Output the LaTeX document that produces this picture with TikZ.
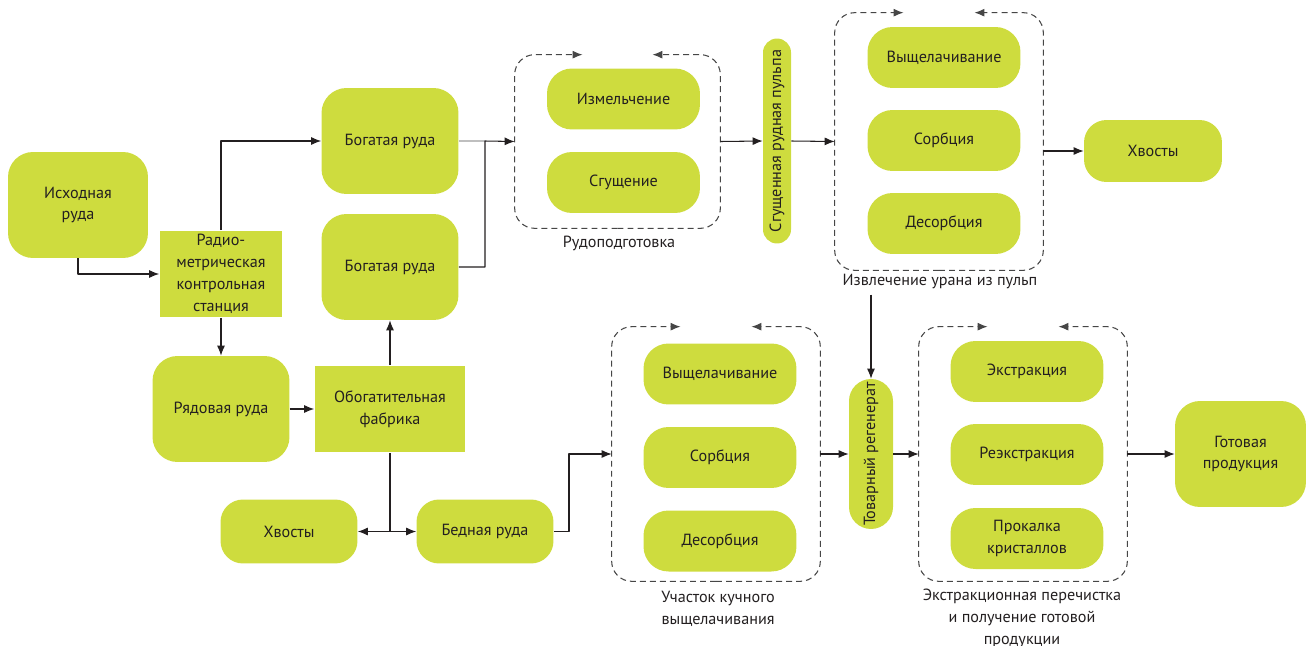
\documentclass[tikz,border=0pt]{standalone}
\usepackage{fontspec}
\setmainfont{PT Sans}
\usepackage{graphicx}
\usetikzlibrary{calc,arrows.meta}
\definecolor{mainLime}{RGB}{206,220,62}
\definecolor{inkGray}{RGB}{35,31,32}
\definecolor{dashGray}{RGB}{70,70,70}

\begin{document}
\begin{tikzpicture}[x=0.02cm, y=-0.02cm, line join=round,
  every node/.style={font=\fontsize{9.2}{12.5}\selectfont, text=inkGray, align=center},
  blob/.style={fill=mainLime, rounded corners=0.5cm, minimum width=2.74cm, minimum height=2.12cm, inner sep=2pt},
  slab/.style={fill=mainLime, minimum height=1.74cm, inner sep=2pt},
  stage/.style={fill=mainLime, rounded corners=0.5cm, minimum width=3.06cm, minimum height=1.22cm},
  flat/.style={fill=mainLime, rounded corners=0.45cm, minimum width=2.74cm, minimum height=1.28cm},
  pill/.style={fill=mainLime, inner sep=0pt},
  grp/.style={inner sep=0pt, minimum width=4.16cm},
  grpline/.style={dashGray, line width=0.6pt, dash pattern=on 3.4pt off 2.3pt, rounded corners=0.4cm, -{Latex[length=2mm,width=1.6mm]}},
  arr/.style={inkGray, line width=0.6pt, -{Latex[length=2mm,width=1.6mm]}},
  link/.style={inkGray, line width=0.6pt},
]
\useasboundingbox (0,0) rectangle (1306,646);

% ore sorting
\node[blob, minimum width=2.8cm] (src) at (78,205) {Исходная\\руда};
\node[slab, minimum width=2.46cm] (radio) at (221,274) {Радио-\\метрическая\\контрольная\\станция};
\node[blob] (rich1) at (390,141) {Богатая руда};
\node[blob] (rich2) at (390,267) {Богатая руда};
\node[blob] (ryad) at (221,409) {Рядовая руда};
\node[slab, minimum width=3.02cm] (plant) at (390,409) {Обогатительная\\фабрика};
\node[flat] (tails1) at (289,531.5) {Хвосты};
\node[flat] (poor) at (485,531.5) {Бедная руда};

% groups
\node[grp, minimum width=4.1cm, minimum height=3.46cm] (gprep) at (617.5,141.5) {};
\node[grp, minimum height=5.14cm] (gextract) at (939,141.5) {};
\node[grp, minimum height=5.08cm] (gheap) at (716,454) {};
\node[grp, minimum height=5.08cm] (gextr) at (1023,454) {};
\foreach \g in {gprep,gextract,gheap,gextr} {
  \draw[grpline] (\g.south) -| (\g.north west) -- ($(\g.north west)!0.33!(\g.north east)$);
  \draw[grpline] (\g.south) -| (\g.north east) -- ($(\g.north west)!0.67!(\g.north east)$);
}
\node (lprep) at (619,243) {Рудоподготовка};
\node (lextract) at (940,281) {Извлечение урана из пульп};
\node (lheap) at (718,609) {Участок кучного\\выщелачивания};
\node (lextr) at (1022,618) {Экстракционная перечистка\\и получение готовой\\продукции};

% steps inside groups
\node[stage] (grind) at (623.5,99) {Измельчение};
\node[stage] (thick) at (623.5,182.5) {Сгущение};
\node[stage] (leach1) at (944,57.5) {Выщелачивание};
\node[stage] (sorb1) at (944,140.5) {Сорбция};
\node[stage] (desorb1) at (944,223.5) {Десорбция};
\node[stage] (leach2) at (720,374) {Выщелачивание};
\node[stage] (sorb2) at (720,457.5) {Сорбция};
\node[stage] (desorb2) at (720,541) {Десорбция};
\node[stage] (extr) at (1027,371.5) {Экстракция};
\node[stage] (reextr) at (1027,454.5) {Реэкстракция};
\node[stage] (calc) at (1027,538.5) {Прокалка\\кристаллов};

% pulp, tails, product
\node[pill, rounded corners=0.28cm, minimum width=0.56cm, minimum height=4.1cm] (pulp) at (777,141) {\rotatebox{90}{Сгущенная рудная пульпа}};
\node[pill, rounded corners=0.44cm, minimum width=0.88cm, minimum height=3cm] (tovar) at (871,454) {\rotatebox{90}{Товарный регенерат}};
\node[flat, minimum width=2.76cm, minimum height=1.24cm] (tails2) at (1153,151) {Хвосты};
\node[blob, minimum width=2.62cm] (ready) at (1240.5,454) {Готовая\\продукция};

% connectors
\draw[arr] (src.south) |- (radio.west);
\draw[arr] (radio.north) |- (rich1.west);
\draw[arr] (radio.south) -- (ryad.north);
\draw[arr] (ryad.east) -- (plant.west);
\draw[arr] (plant.north) -- (rich2.south);
\coordinate (split) at (plant.south |- poor.west);
\draw[link] (plant.south) -- (split);
\draw[arr] (split) -- (tails1.east);
\draw[arr] (split) -- (poor.west);
\coordinate (merge) at (485,141);
\draw[link, draw=gray!50] (rich1.east) -- (merge);
\draw[arr] (rich2.east) -| (merge) -- (gprep.west);
\draw[arr] (gprep.east) -- (pulp.west);
\draw[arr] (pulp.east) -- (gextract.west);
\draw[arr] (gextract.east |- tails2.west) -- (tails2.west);
\draw[arr] (lextract.south -| tovar.north) -- (tovar.north);
\coordinate (poorbend) at (569,531.5);
\draw[arr] (poor.east) -- (poorbend) |- (gheap.west);
\draw[arr] (gheap.east) -- (tovar.west);
\draw[arr] (tovar.east) -- (gextr.west);
\draw[arr] (gextr.east) -- (ready.west);
\end{tikzpicture}
\end{document}
